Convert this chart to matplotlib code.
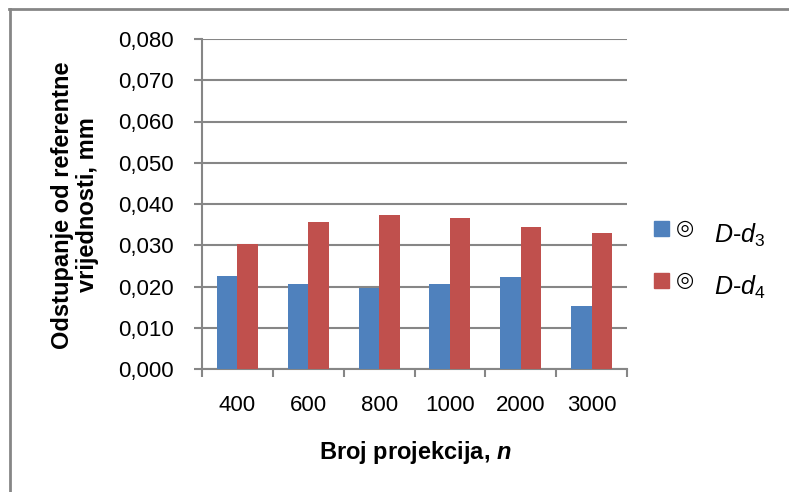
import numpy as np
import matplotlib
matplotlib.use("Agg")
import matplotlib.pyplot as plt
from matplotlib.lines import Line2D
from matplotlib.patches import Rectangle

plt.rcParams['font.family'] = ['Liberation Sans', 'DejaVu Sans']
plt.rcParams['mathtext.fontset'] = 'custom'
plt.rcParams['mathtext.rm'] = 'Liberation Sans'
plt.rcParams['mathtext.it'] = 'Liberation Sans:italic'
plt.rcParams['mathtext.bf'] = 'Liberation Sans:bold'
plt.rcParams['mathtext.bfit'] = 'Liberation Sans:bold:italic'

# Podaci
projekcije = ['400', '600', '800', '1000', '2000', '3000']
d3 = [0.0225, 0.0206, 0.0196, 0.0206, 0.0223, 0.0153]
d4 = [0.0303, 0.0356, 0.0373, 0.0366, 0.0344, 0.0330]
serije = [r'$D$-$d_3$', r'$D$-$d_4$']
boje = ['#4F81BD', '#C0504D']

siva = '#868686'

fig = plt.figure(figsize=(7.89, 4.92), dpi=100)
ax = fig.add_axes([202/789, 1 - 369/492, 425/789, 330/492])

x = np.arange(len(projekcije))
w = 0.29
ax.bar(x - w/2, d3, w, color=boje[0], zorder=3)
ax.bar(x + w/2, d4, w, color=boje[1], zorder=3)

ax.set_xlim(-0.5, len(projekcije) - 0.5)
ax.set_ylim(0, 0.08)
yt = np.arange(0, 0.0801, 0.01)
ax.set_yticks(yt, labels=[('%.3f' % v).replace('.', ',') for v in yt])
ax.yaxis.grid(True, color=siva, linewidth=1.5, zorder=0)

# glavne oznake na granicama kategorija, natpisi u sredini
ax.set_xticks(np.arange(-0.5, len(projekcije)), labels=[])
ax.set_xticks(x, labels=projekcije, minor=True)
ax.tick_params(axis='x', which='major', length=6, width=1.5, color=siva, direction='out')
ax.tick_params(axis='x', which='minor', length=0, pad=19, labelsize=16)
ax.tick_params(axis='y', length=6, width=1.5, color=siva, pad=14, labelsize=16)

for s in ['top', 'right']:
    ax.spines[s].set_visible(False)
for s in ['left', 'bottom']:
    ax.spines[s].set_color(siva)
    ax.spines[s].set_linewidth(1.5)

fig.text(75/789, 1 - 205/492, 'Odstupanje od referentne\nvrijednosti, mm',
         rotation=90, ha='center', va='center', multialignment='center',
         fontsize=17, fontweight='bold', linespacing=1.1)
fig.text(415/789, 1 - 452/492, r'Broj projekcija, $\mathbfit{n}$',
         ha='center', va='center', fontsize=17, fontweight='bold')

# legenda
for i, (ime, boja) in enumerate(zip(serije, boje)):
    y0 = 221 + i * 52
    fig.add_artist(Rectangle((654/789, 1 - (y0 + 15)/492), 15/789, 15/492,
                             transform=fig.transFigure, color=boja))
    fig.text(685/789, 1 - (y0 + 7)/492, '◎', ha='center', va='center',
             fontsize=15, fontweight='bold', family=['DejaVu Sans'])
    fig.text(714/789, 1 - (y0 + 22)/492, ime, ha='left', va='baseline', fontsize=18)

# okvir grafikona
fig.add_artist(Line2D([10/789, 10/789], [0, 1 - 9/492], transform=fig.transFigure,
                      color=siva, linewidth=2))
fig.add_artist(Line2D([9/789, 1], [1 - 9/492, 1 - 9/492], transform=fig.transFigure,
                      color=siva, linewidth=2))

fig.savefig('out.png', dpi=100)
